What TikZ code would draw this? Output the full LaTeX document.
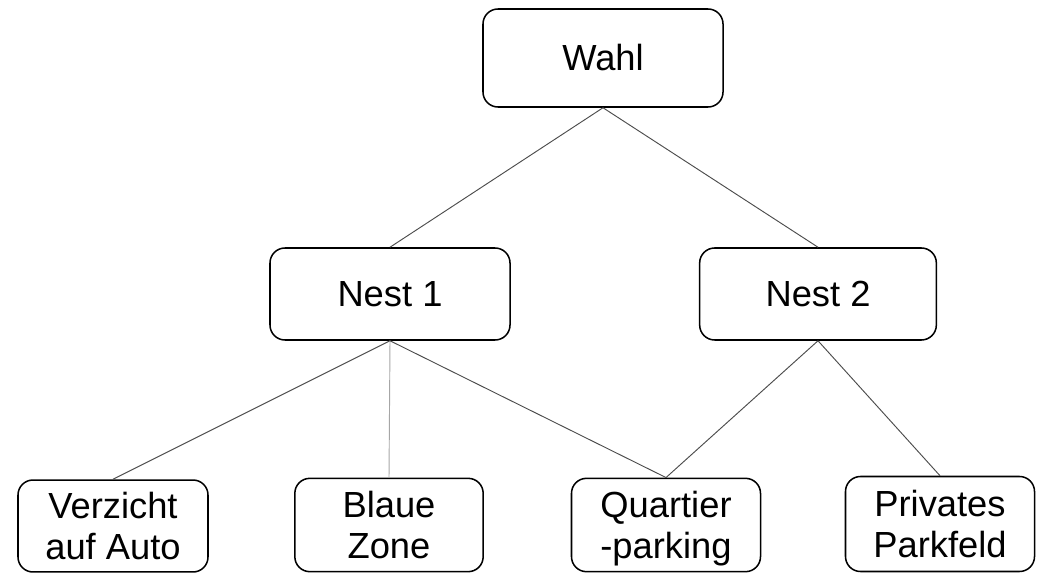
\documentclass[tikz,border=0pt]{standalone}
\usepackage{fontspec}
\setmainfont{Liberation Sans}
\newcommand{\topfill}{\rule{0pt}{33pt}}
\begin{document}
\begin{tikzpicture}[x=0.03cm,y=-0.03cm,
    box/.style={draw,line width=1.3pt,rounded corners=0.45cm,align=center,inner sep=0pt,
      font=\fontsize{31}{35}\selectfont},
    link/.style={draw=black!70,line width=0.8pt}]
    \useasboundingbox (0,0) rectangle (1043,573);
    \node[box,minimum width=7.2cm,minimum height=2.94cm] (wahl) at (603,58) {Wahl};
    \node[box,minimum width=7.2cm,minimum height=2.76cm] (nest1) at (390,294) {Nest 1};
    \node[box,minimum width=7.1cm,minimum height=2.76cm] (nest2) at (818,294) {Nest 2};
    \node[box,minimum width=5.7cm,minimum height=2.7cm] (verzicht) at (113,526) {\topfill Verzicht\\auf Auto\strut};
    \node[box,minimum width=5.65cm,minimum height=2.8cm] (blaue) at (389,525) {\topfill Blaue\\Zone\strut};
    \node[box,minimum width=5.67cm,minimum height=2.8cm] (quartier) at (666,525) {\topfill Quartier\\-parking\strut};
    \node[box,minimum width=5.67cm,minimum height=2.85cm] (privat) at (940,524) {\topfill Privates\\Parkfeld\strut};
    \draw[link] (wahl.south) -- (nest1.north);
    \draw[link] (wahl.south) -- (nest2.north);
    \draw[link] (nest1.south) -- (verzicht.north);
    \draw[link,draw=black!35] (nest1.south) -- (blaue.north);
    \draw[link] (nest1.south) -- (quartier.north);
    \draw[link] (nest2.south) -- (quartier.north);
    \draw[link] (nest2.south) -- (privat.north);
\end{tikzpicture}
\end{document}
